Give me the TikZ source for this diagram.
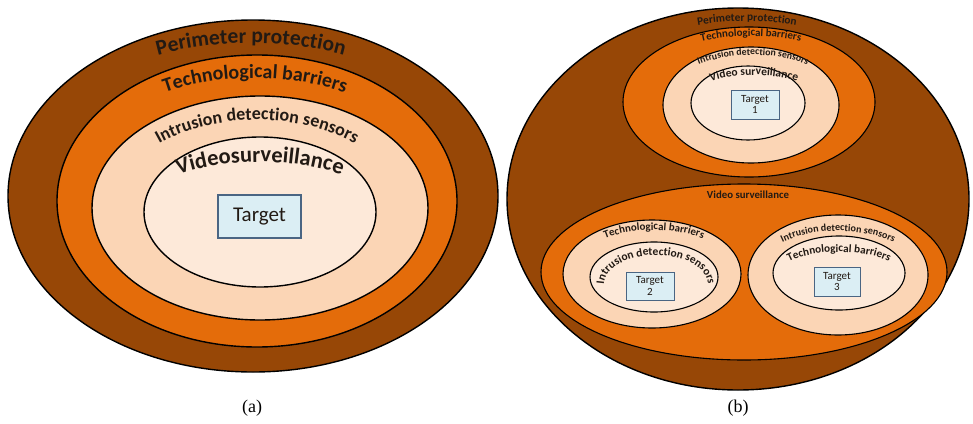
\documentclass[tikz,border=0pt]{standalone}
\usepackage{fontspec}
\setmainfont{Carlito}
\newfontfamily\captionserif{Liberation Serif}
\usetikzlibrary{shapes.geometric,decorations.text}

\definecolor{brownD}{HTML}{974706}
\definecolor{orangeM}{HTML}{E46C0A}
\definecolor{peachL}{HTML}{FBD5B5}
\definecolor{peachXL}{HTML}{FDE9D9}
\definecolor{targetFill}{HTML}{DBEEF4}
\definecolor{targetLine}{HTML}{4A6583}
\definecolor{labelInk}{HTML}{221A14}

% Bold label set along the top of an ellipse centred at (#2,#3) with radii #4, #5.
% Optional #1: half the angular span of the guiding arc; #6: font size; #7: text.
\newcommand\arclabel[7][80]{%
  \path[decorate,decoration={text along path,text align=center,
    text color=labelInk,
    text={|\fontsize{#6}{#6}\selectfont\bfseries|#7}}]
    (#2,#3) ++(-90-#1:#4 and #5)
    arc[start angle=-90-#1,end angle=-90+#1,x radius=#4,y radius=#5];}

\begin{document}
\begin{tikzpicture}[x=1pt,y=-1pt,
  ring/.style={ellipse,draw=black,line width=1.4pt,inner sep=0pt,outer sep=0pt},
  thinring/.style={ring,line width=1.1pt},
  targetbox/.style={draw=targetLine,fill=targetFill,line width=1.6pt,inner sep=0pt,
    align=center,text=labelInk},
  smallbox/.style={targetbox,line width=1pt,font=\fontsize{11}{11.5}\selectfont},
  caption/.style={font=\captionserif\fontsize{18}{18}\selectfont}]
\useasboundingbox[fill=white] (0,0) rectangle (973,423);

% ---------------- (a) nested layers ----------------
\node[ring,fill=brownD,minimum width=490pt,minimum height=352pt] (aPerim) at (253,196) {};
\node[ring,fill=orangeM,minimum width=400pt,minimum height=292pt] (aTech) at (257,201) {};
\node[ring,fill=peachL,minimum width=336pt,minimum height=224pt] (aIntr) at (260,208) {};
\node[ring,fill=peachXL,minimum width=232pt,minimum height=150pt] (aVideo) at (260,212) {};
\node[targetbox,minimum width=83pt,minimum height=43pt,
  font=\fontsize{21}{21}\selectfont] (aTarget) at (259.5,216.5) {Target};

\arclabel{251}{193}{236}{150}{21.5}{Perimeter protection}
\arclabel{255}{198}{187}{120}{20}{Technological barriers}
\arclabel{257}{210}{145}{90}{18}{Intrusion detection sensors}
\arclabel{260}{217}{127}{55}{22.5}{Videosurveillance}

\node[caption] (capA) at (252,408) {(a)};

% ---------------- (b) several protected targets ----------------
\node[ring,fill=brownD,minimum width=462pt,minimum height=382pt] (bPerim) at (738,199) {};

% upper target
\node[thinring,fill=orangeM,minimum width=252pt,minimum height=150pt] (bTech) at (749,102) {};
\node[thinring,fill=peachL,minimum width=176pt,minimum height=116pt] (bIntr) at (751,105) {};
\node[thinring,fill=peachXL,minimum width=114pt,minimum height=74pt] (bVideo) at (748,103) {};
\node[smallbox,minimum width=48pt,minimum height=29pt] (bTargetA) at (755,104.5) {Target\\1};

\arclabel{747}{199}{230}{178}{11.3}{Perimeter protection}
\arclabel{751}{102}{124}{66}{10.9}{Technological barriers}
\arclabel{753}{105}{92}{50}{9.8}{Intrusion detection sensors}
\arclabel{754}{103}{68}{28}{11.5}{Video surveillance}

% lower zone shared by two targets
\node[thinring,fill=orangeM,minimum width=406pt,minimum height=176pt] (bVideoLow) at (744,272) {};
\node[font=\fontsize{10.8}{10.8}\selectfont\bfseries,text=labelInk] (bVideoLowLabel) at (748,195) {Video surveillance};

\node[thinring,fill=peachL,minimum width=178pt,minimum height=108pt] (bTechL) at (652,274) {};
\node[thinring,fill=peachXL,minimum width=128pt,minimum height=70pt] (bIntrL) at (654,277) {};
\node[smallbox,minimum width=48pt,minimum height=28pt] (bTargetB) at (650,286) {Target\\2};

\node[thinring,fill=peachL,minimum width=180pt,minimum height=120pt] (bIntrR) at (838,275) {};
\node[thinring,fill=peachXL,minimum width=132pt,minimum height=74pt] (bTechR) at (839,273) {};
\node[smallbox,minimum width=46pt,minimum height=29pt] (bTargetC) at (837,281.5) {Target\\3};

\arclabel{654}{274}{82}{44}{10.9}{Technological barriers}
\arclabel[97]{656}{285}{52}{30}{11.5}{Intrusion detection sensors}
\arclabel{838}{275}{83}{44}{10.1}{Intrusion detection sensors}
\arclabel[88]{839}{273}{59}{21}{11.2}{Technological barriers}

\node[caption] (capB) at (738,408) {(b)};
\end{tikzpicture}
\end{document}
